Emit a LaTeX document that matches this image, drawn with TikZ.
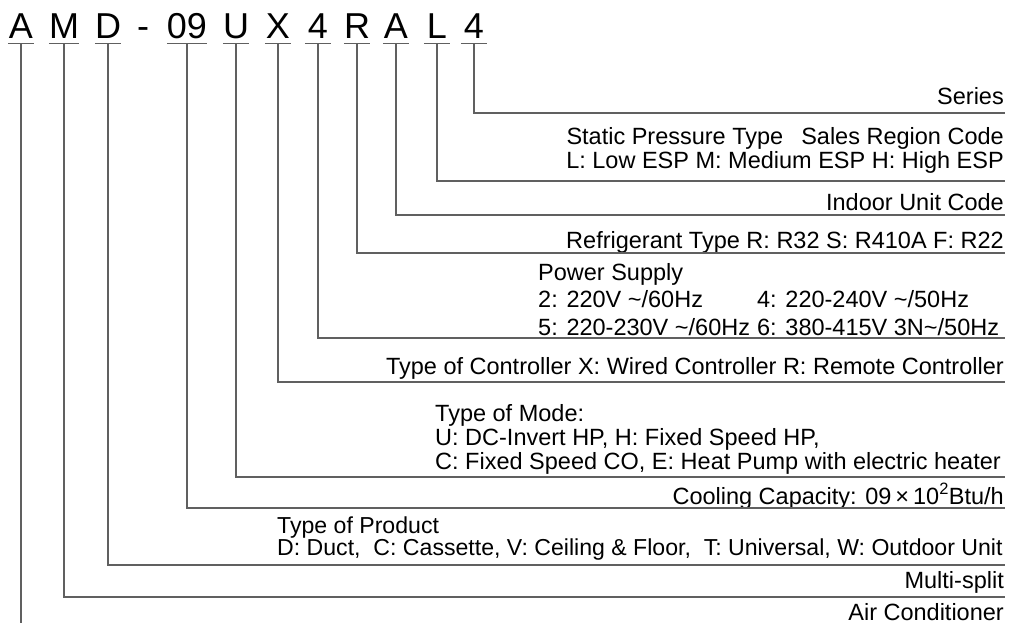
\documentclass[tikz,border=0pt]{standalone}
\usepackage{fontspec}
\setmainfont{Liberation Sans}
\usetikzlibrary{positioning}
\definecolor{leadgray}{RGB}{96,96,96}
\tikzset{
  code/.style={font=\fontsize{36}{40}\selectfont, inner sep=0pt, minimum width=26pt,
    text depth=4pt, anchor=base},
  desc/.style={font=\fontsize{23.5}{24}\selectfont, inner sep=0pt},
  lead/.style={draw=leadgray, line width=1.3pt}
}

\begin{document}
\begin{tikzpicture}[x=1pt, y=-1pt]
  \useasboundingbox (0,0) rectangle (1009,623);
  % model code
  \node[code] (cA) at (21,39) {A};
  \node[code] (cM) at (64,39) {M};
  \node[code] (cD) at (108,39) {D};
  \node[code, text depth=0pt] (hyph) at (143,39) {-};
  \node[code, minimum width=37pt] (cCap) at (187,39) {09};
  \node[code] (cU) at (236,39) {U};
  \node[code] (cX) at (278,39) {X};
  \node[code] (cPow) at (318,39) {4};
  \node[code] (cR) at (357,39) {R};
  \node[code] (cInd) at (396,39) {A};
  \node[code] (cL) at (437,39) {L};
  \node[code] (cSer) at (474,39) {4};
  \foreach \c in {cA,cM,cD,cCap,cU,cX,cPow,cR,cInd,cL,cSer}
    \draw[lead] (\c.south west) -- (\c.south east);

  % meanings
  \node[desc, anchor=base east] (ser) at (1004,105) {Series};
  \node[desc, anchor=base east, align=right, font=\fontsize{23.5}{24}\selectfont] (esp) at (1004,168)
    {Static Pressure Type\hspace{18pt}Sales Region Code\\L: Low ESP M: Medium ESP H: High ESP};
  \node[desc, anchor=base east] (ind) at (1004,210) {Indoor Unit Code};
  \node[desc, anchor=base east] (ref) at (1004,248) {Refrigerant Type R: R32 S: R410A F: R22};
  \node[desc, anchor=base west, align=left, font=\fontsize{23.5}{27.5}\selectfont] (pow) at (538,335)
    {Power Supply\\
     \makebox[219pt][l]{2: 220V \textasciitilde/60Hz}4: 220-240V \textasciitilde/50Hz\\
     \makebox[219pt][l]{5: 220-230V \textasciitilde/60Hz}6: 380-415V 3N\textasciitilde/50Hz};
  \node[desc, anchor=base east] (ctl) at (1004,374)
    {Type of Controller X: Wired Controller R: Remote Controller};
  \node[desc, anchor=base west, align=left] (mode) at (435,469)
    {Type of Mode:\\U: DC-Invert HP, H: Fixed Speed HP,\\C: Fixed Speed CO, E: Heat Pump with electric heater};
  \node[desc, anchor=base east] (cap) at (1004,504)
    {Cooling Capacity: 09\,×\,10\textsuperscript{2}Btu/h};
  \node[desc, anchor=base west, align=left, font=\fontsize{23.1}{22}\selectfont] (prod) at (277,555)
    {Type of Product\\D: Duct,\ \ C: Cassette, V: Ceiling \& Floor,\ \ T: Universal, W: Outdoor Unit};
  \node[desc, anchor=base east] (mul) at (1004,588) {Multi-split};
  \node[desc, anchor=base east] (air) at (1004,620) {Air Conditioner};

  % leader lines
  \coordinate (eSer) at (1005,113);
  \coordinate (eEsp) at (1005,181);
  \coordinate (eInd) at (1005,215);
  \coordinate (eRef) at (1005,253);
  \coordinate (ePow) at (1005,338);
  \coordinate (eCtl) at (1005,382);
  \coordinate (eMode) at (1005,477);
  \coordinate (eCap) at (1005,508);
  \coordinate (eProd) at (1005,565);
  \coordinate (eMul) at (1005,597);
  \coordinate (eAir) at (21,623);
  \draw[lead] (cSer.south) |- (eSer);
  \draw[lead] (cL.south) |- (eEsp);
  \draw[lead] (cInd.south) |- (eInd);
  \draw[lead] (cR.south) |- (eRef);
  \draw[lead] (cPow.south) |- (ePow);
  \draw[lead] (cX.south) |- (eCtl);
  \draw[lead] (cU.south) |- (eMode);
  \draw[lead] (cCap.south) |- (eCap);
  \draw[lead] (cD.south) |- (eProd);
  \draw[lead] (cM.south) |- (eMul);
  \draw[lead] (cA.south) -- (eAir);
\end{tikzpicture}
\end{document}
